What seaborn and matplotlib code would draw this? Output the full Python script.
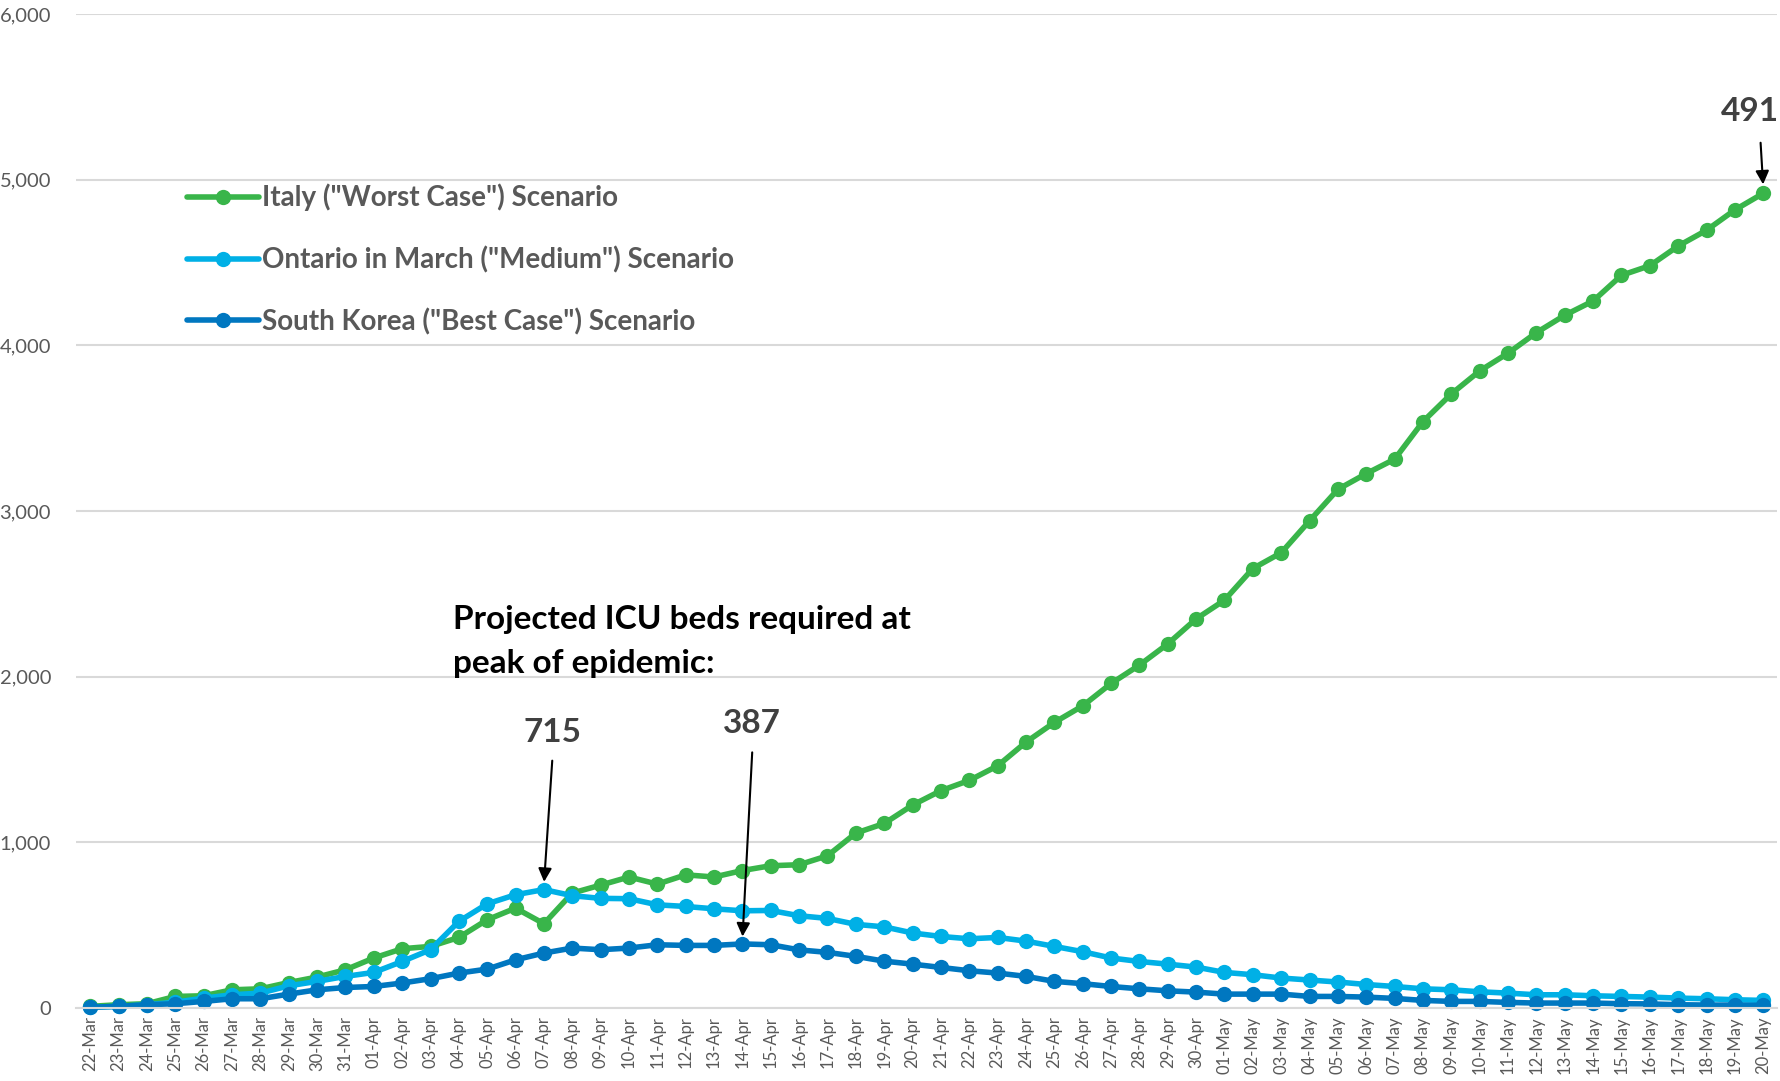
import numpy as np
import pandas as pd
import seaborn as sns
import matplotlib.pyplot as plt
from matplotlib.lines import Line2D
from matplotlib.ticker import FuncFormatter

sns.set_style('white')
plt.rcParams['font.family'] = ['Lato', 'DejaVu Sans']

# daily labels 22-Mar .. 20-May
dates = pd.date_range('2020-03-22', '2020-05-20').strftime('%d-%b').tolist()

scenarios = ['Italy ("Worst Case") Scenario',
             'Ontario in March ("Medium") Scenario',
             'South Korea ("Best Case") Scenario']
colors = ['#39B54A', '#00B0E6', '#0077C0']

italy = [10, 20, 26, 70, 74, 110, 116, 154, 187, 231,
         302, 358, 372, 426, 533, 603, 509, 694, 742, 791,
         748, 804, 791, 830, 859, 865, 919, 1056, 1114, 1225,
         1312, 1374, 1462, 1605, 1724, 1824, 1959, 2070, 2198, 2349,
         2462, 2653, 2748, 2941, 3131, 3226, 3313, 3540, 3707, 3846,
         3953, 4077, 4182, 4268, 4423, 4481, 4600, 4695, 4818, 4918]
ontario = [5, 10, 20, 35, 60, 80, 90, 134, 161, 191,
           215, 281, 352, 523, 629, 684, 715, 678, 662, 660,
           623, 613, 599, 587, 589, 557, 541, 505, 490, 453,
           432, 418, 426, 404, 372, 340, 302, 281, 265, 247,
           215, 201, 181, 169, 157, 142, 130, 116, 110, 98,
           90, 80, 80, 74, 70, 66, 60, 56, 50, 46]
korea = [5, 10, 20, 26, 40, 56, 56, 84, 110, 124,
         130, 151, 177, 211, 235, 291, 332, 362, 352, 362,
         382, 378, 378, 387, 382, 351, 336, 312, 283, 265,
         245, 225, 211, 191, 161, 147, 130, 116, 104, 96,
         84, 84, 84, 70, 70, 66, 58, 46, 40, 40,
         34, 30, 30, 30, 26, 25, 20, 18, 18, 16]

n = len(dates)
df = pd.DataFrame({
    'day': list(range(n)) * 3,
    'beds': italy + ontario + korea,
    'scenario': [scenarios[0]] * n + [scenarios[1]] * n + [scenarios[2]] * n,
})

fig = plt.figure(figsize=(17.81, 10.81), dpi=100)
ax = fig.add_axes([0.0427, 0.0675, 0.9553, 0.9195])

sns.lineplot(data=df, x='day', y='beds', hue='scenario', hue_order=scenarios,
             palette=colors, marker='o', markersize=11, markeredgewidth=0,
             linewidth=4, legend=False, ax=ax)
for line in ax.lines:
    line.set_clip_on(False)

# axes styling, excel look
ax.set_xlim(-0.5, n - 0.5)
ax.set_ylim(0, 6000)
ax.set_yticks(range(0, 6001, 1000))
ax.yaxis.set_major_formatter(FuncFormatter(lambda v, p: f'{v:,.0f}'))
ax.set_xticks(range(n))
ax.set_xticklabels(dates, rotation=90)
ax.set_xticks(np.arange(-0.5, n, 1), minor=True)
ax.tick_params(axis='x', which='major', length=0, pad=6, labelsize=12, labelcolor='#595959')
ax.tick_params(axis='x', which='minor', length=6, width=1.5, color='#d9d9d9', direction='out')
ax.tick_params(axis='y', length=0, pad=18, labelsize=14.5, labelcolor='#595959')
ax.grid(axis='y', color='#d9d9d9', lw=1.5)
ax.set_axisbelow(True)
for s in ['left', 'top', 'right']:
    ax.spines[s].set_visible(False)
ax.spines['bottom'].set_color('#d9d9d9')
ax.spines['bottom'].set_linewidth(1.5)
ax.set_xlabel('')
ax.set_ylabel('')

# legend
handles = [Line2D([], [], color=c, lw=4, marker='o', markersize=11, markeredgewidth=0) for c in colors]
leg = ax.legend(handles, scenarios, frameon=False, loc='upper left',
                bbox_to_anchor=(0.105, 0.83), bbox_transform=fig.transFigure,
                prop={'weight': 'bold', 'size': 20}, handlelength=2.6,
                handletextpad=0.1, labelspacing=1.25, borderpad=0, borderaxespad=0)
for t in leg.get_texts():
    t.set_color('#595959')

# annotations
ax.text(12.8, 2212, 'Projected ICU beds required at\npeak of epidemic:', ha='left', va='center',
        fontsize=24, fontweight='bold', color='black', linespacing=1.65)
arrow = dict(arrowstyle='-|>', color='black', lw=1.5, mutation_scale=20)
ax.annotate('', xy=(16, 745), xytext=(16.3, 1510), arrowprops=arrow)
ax.text(16.3, 1665, '715', ha='center', va='center', fontsize=24, fontweight='bold', color='#404040')
ax.annotate('', xy=(23, 415), xytext=(23.35, 1560), arrowprops=arrow)
ax.text(23.35, 1720, '387', ha='center', va='center', fontsize=24, fontweight='bold', color='#404040')
ax.annotate('', xy=(59, 4955), xytext=(58.9, 5240), arrowprops=arrow)
ax.text(59.55, 5410, '491', ha='right', va='center', fontsize=24, fontweight='bold', color='#404040')

fig.savefig('out.png', dpi=100)
